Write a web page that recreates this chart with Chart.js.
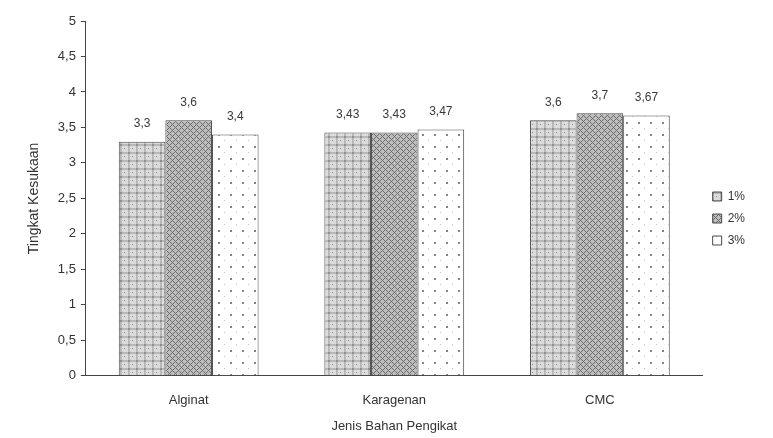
<!DOCTYPE html>
<html>
<head>
<meta charset="utf-8">
<script src="https://cdn.jsdelivr.net/npm/chart.js@4/dist/chart.umd.min.js"></script>
<style>
  html, body { margin: 0; padding: 0; background: #fff; }
</style>
</head>
<body>
<canvas id="barChart" width="773" height="438"></canvas>
<script>
let categories = ["Alginat", "Karagenan", "CMC"];
let seriesNames = ["1%", "2%", "3%"];
let data1 = [3.3, 3.43, 3.6];
let data2 = [3.6, 3.43, 3.7];
let data3 = [3.4, 3.47, 3.67];
let yTicks = [0, 0.5, 1, 1.5, 2, 2.5, 3, 3.5, 4, 4.5, 5];

// pola arsiran untuk tiap seri
function makePattern(kind) {
  let c = document.createElement("canvas");
  let ctx = c.getContext("2d");
  if (kind == 1) {
    c.width = 8; c.height = 8;
    ctx.fillStyle = "#dcdcdc";
    ctx.fillRect(0, 0, 8, 8);
    ctx.fillStyle = "#b8b8b8";
    ctx.fillRect(0, 0, 8, 2);
    ctx.fillRect(0, 0, 2, 8);
    ctx.fillStyle = "#8e8e8e";
    ctx.fillRect(0, 0, 2, 2);
    ctx.fillRect(4, 4, 1, 1);
  } else if (kind == 2) {
    c.width = 6; c.height = 6;
    ctx.fillStyle = "#bdbdbd";
    ctx.fillRect(0, 0, 6, 6);
    ctx.fillStyle = "#6e6e6e";
    for (let i = 0; i < 6; i++) {
      ctx.fillRect(i, i % 6, 1, 1);
      ctx.fillRect(i, (6 - i + 2) % 6, 1, 1);
    }
  } else {
    c.width = 12; c.height = 12;
    ctx.fillStyle = "#ffffff";
    ctx.fillRect(0, 0, 12, 12);
    ctx.fillStyle = "#858585";
    ctx.fillRect(2, 2, 2, 2);
    ctx.fillStyle = "#c0c0c0";
    ctx.fillRect(8, 8, 1, 1);
  }
  return ctx.createPattern(c, "repeat");
}

function fmt(v) {
  return String(v).replace(".", ",");
}

// label nilai di atas batang
let valueLabels = {
  id: "valueLabels",
  afterDatasetsDraw(chart) {
    let ctx = chart.ctx;
    ctx.save();
    ctx.font = "12px 'Liberation Sans', Arial, sans-serif";
    ctx.fillStyle = "#3a3a3a";
    ctx.textAlign = "center";
    ctx.textBaseline = "bottom";
    chart.data.datasets.forEach((ds, i) => {
      chart.getDatasetMeta(i).data.forEach((bar, j) => {
        ctx.fillText(fmt(ds.data[j]), bar.x, bar.y - 12);
      });
    });
    ctx.restore();
  },
};

// geser legenda sedikit ke atas
let legendShift = {
  id: "legendShift",
  afterLayout(chart) {
    chart.legend.top -= 9;
    chart.legend.bottom -= 9;
  },
};

let patterns = [makePattern(1), makePattern(2), makePattern(3)];
let allData = [data1, data2, data3];
let fontFam = "'Liberation Sans', Arial, sans-serif";

new Chart(document.getElementById("barChart"), {
  type: "bar",
  data: {
    labels: categories,
    datasets: seriesNames.map((name, i) => ({
      label: name,
      data: allData[i],
      backgroundColor: patterns[i],
      borderColor: "#4a4a4a",
      borderWidth: 1,
      borderSkipped: "bottom",
    })),
  },
  options: {
    responsive: false,
    animation: false,
    devicePixelRatio: 1,
    categoryPercentage: 0.68,
    barPercentage: 1,
    layout: {
      padding: { left: 26, top: 21, right: 18, bottom: 4 },
    },
    plugins: {
      tooltip: { enabled: false },
      legend: {
        position: "right",
        labels: {
          boxWidth: 9,
          boxHeight: 9,
          padding: 10,
          color: "#333",
          font: { family: fontFam, size: 12 },
        },
      },
    },
    scales: {
      x: {
        grid: { display: false, drawTicks: false },
        border: { color: "#444", width: 1 },
        ticks: {
          color: "#333",
          padding: 17,
          font: { family: fontFam, size: 13 },
        },
        title: {
          display: true,
          text: "Jenis Bahan Pengikat",
          color: "#333",
          padding: { top: -7, bottom: 0 },
          font: { family: fontFam, size: 13 },
        },
      },
      y: {
        min: 0,
        max: 5,
        afterBuildTicks: (axis) => {
          axis.ticks = yTicks.map((v) => ({ value: v }));
        },
        grid: {
          drawOnChartArea: false,
          drawTicks: true,
          tickLength: 5,
          color: "#444",
        },
        border: { color: "#444", width: 1 },
        ticks: {
          color: "#333",
          padding: 5,
          font: { family: fontFam, size: 13 },
          callback: (v) => fmt(v),
        },
        title: {
          display: true,
          text: "Tingkat Kesukaan",
          color: "#333",
          padding: { top: 0, bottom: 10 },
          font: { family: fontFam, size: 14 },
        },
      },
    },
  },
  plugins: [valueLabels, legendShift],
});
</script>
</body>
</html>
